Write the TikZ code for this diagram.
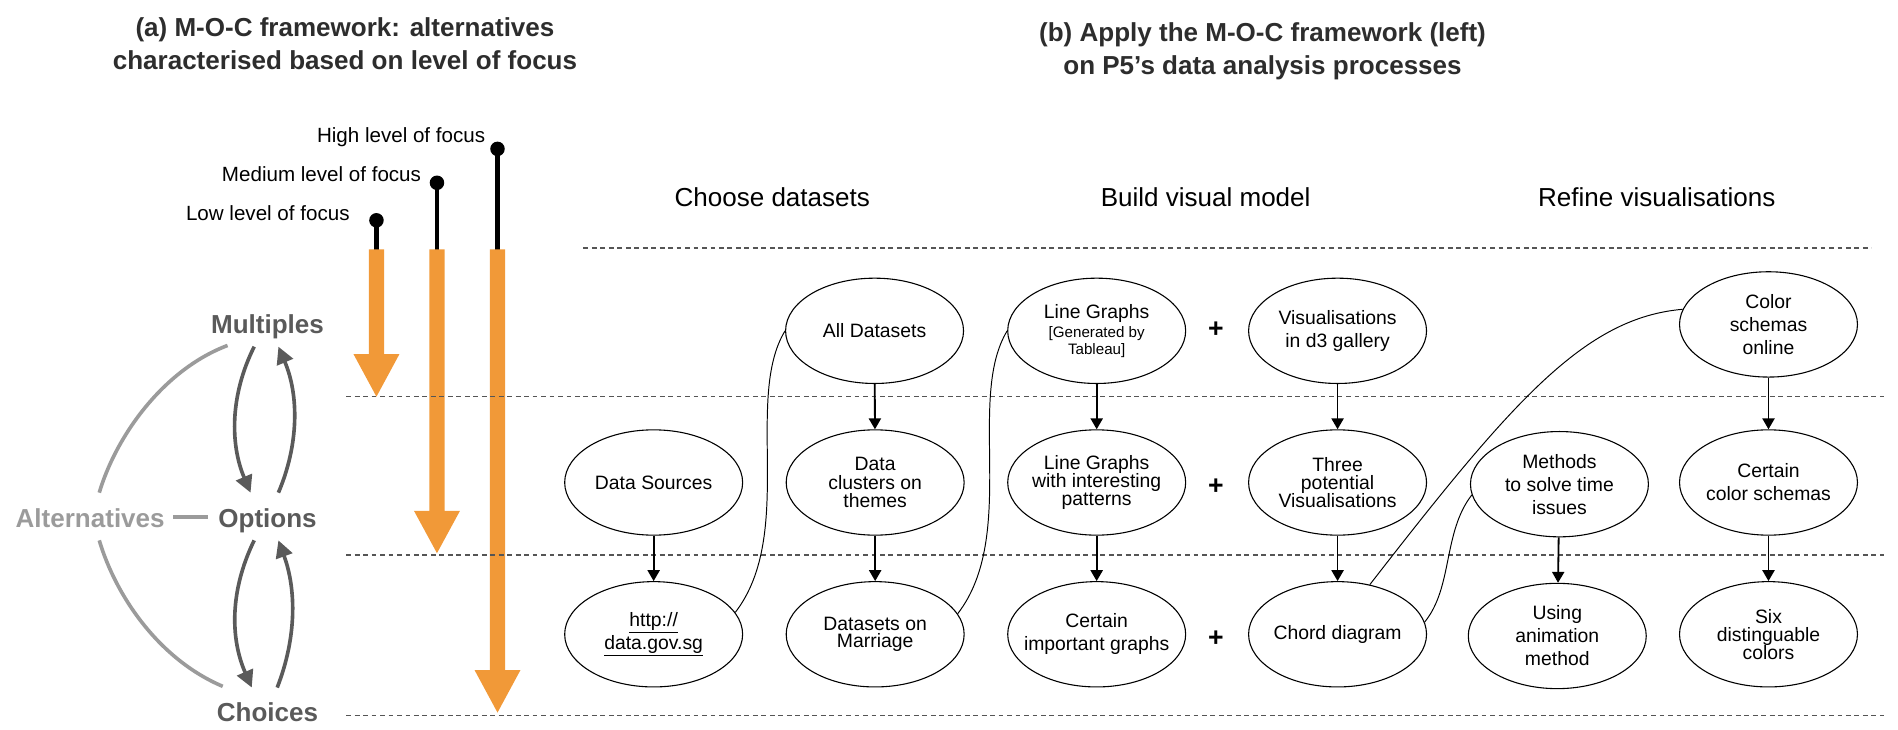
\documentclass[tikz,border=0pt]{standalone}
\usepackage{fontspec}
\setmainfont{Liberation Sans}
\usetikzlibrary{shapes.geometric,arrows.meta,calc}
\definecolor{orangeF}{RGB}{241,153,56}
\definecolor{darkG}{RGB}{90,90,90}
\definecolor{lightG}{RGB}{155,155,155}
\definecolor{titleG}{RGB}{45,45,45}
\definecolor{dashG}{RGB}{85,85,85}
\newcommand{\orangebar}[3]{\fill[orangeF] (#1-6.25,206) -- (#1+6.25,206) -- (#1+6.25,#2) -- (#1+19,#2) -- (#1,#3) -- (#1-19,#2) -- (#1-6.25,#2) -- cycle;}
\begin{document}
\begin{tikzpicture}[x=1pt,y=-1pt,
  elli/.style={ellipse, draw, line width=0.9pt, minimum width=147pt, minimum height=87pt, inner xsep=-14pt, inner ysep=-4pt, align=center, font=\fontsize{16}{15}\selectfont},
  loose/.style={font=\fontsize{16}{19}\selectfont},
  mid/.style={font=\fontsize{16}{14.3}\selectfont},
  varr/.style={-{Triangle[length=9pt,width=10pt]}, line width=1.5pt},
  curve/.style={line width=0.8pt},
  rowsep/.style={dash pattern=on 4pt off 3pt, line width=1.3pt, dashG},
  titlef/.style={font=\fontsize{21.5}{27}\selectfont\bfseries, text=titleG, align=center, inner sep=0pt, anchor=base},
  hdr/.style={font=\fontsize{21.5}{24}\selectfont, inner sep=0pt, anchor=base},
  foc/.style={font=\fontsize{17}{20}\selectfont, inner sep=0pt, anchor=base east},
  dot/.style={circle, fill=black, minimum size=12pt, inner sep=0pt},
  stem/.style={line width=3.5pt},
  moc/.style={font=\fontsize{21.5}{24}\selectfont\bfseries, text height=15.5pt, text depth=4.5pt, inner sep=0pt, anchor=base},
  darr/.style={darkG, line width=3pt, -{Triangle[length=14pt,width=14pt]}},
  garc/.style={lightG, line width=3pt},
  plus/.style={font=\fontsize{22}{22}\selectfont\bfseries, inner sep=0pt}
]
\useasboundingbox (0,0) rectangle (1568,603);

% titles (base anchor = baseline of the last line)
\node[titlef] (ta) at (285,57.3) {(a) M-O-C framework: alternatives\\characterised based on level of focus};
\node[titlef] (tb) at (1043,61.4) {(b) Apply the M-O-C framework (left)\\on P5’s data analysis processes};

% column headers
\node[hdr] (h1) at (638,170.2) {Choose datasets};
\node[hdr] (h2) at (996,170.2) {Build visual model};
\node[hdr] (h3) at (1368.7,170.2) {Refine visualisations};

% focus labels and dots
\node[foc] (lhi) at (401,117.6) {High level of focus};
\node[foc] (lme) at (348,149.8) {Medium level of focus};
\node[foc] (llo) at (289,181.8) {Low level of focus};
\node[dot] (dhi) at (411,123) {};
\node[dot] (dme) at (361,151) {};
\node[dot] (dlo) at (311,182) {};
\coordinate (bhi) at (411,207);
\coordinate (bme) at (361,207);
\coordinate (blo) at (311,207);
\draw[stem] (dhi.center) -- (bhi);
\draw[stem] (dme.center) -- (bme);
\draw[stem] (dlo.center) -- (blo);
\orangebar{311}{292.5}{327.7}
\orangebar{361}{422}{457}
\orangebar{411}{553.5}{588.7}

% dashed row separators
\draw[rowsep] (482,205) -- (1546,205);
\draw[rowsep] (286,327.7) -- (1556,327.7);
\draw[rowsep] (286,458.5) -- (1556,458.5);
\draw[rowsep] (286,591) -- (1556,591);

% M-O-C framework
\node[moc, text=darkG] (mul) at (221,275.7) {Multiples};
\node[moc, text=darkG] (opt) at (221,435.7) {Options};
\node[moc, text=darkG] (cho) at (221,595.7) {Choices};
\node[moc, text=lightG] (alt) at (74.5,435.7) {Alternatives};

\draw[darr] ($(mul.south)+(-11,6)$) .. controls +(-20,40) and +(-17,-40) .. ($(opt.north)+(-14,-13)$);
\draw[darr] ($(opt.north)+(9,-13)$) .. controls +(17,-40) and +(17,40) .. ($(mul.south)+(9,6)$);
\draw[darr] ($(opt.south)+(-11,6)$) .. controls +(-20,41) and +(-18,-41) .. ($(cho.north)+(-13,-12)$);
\draw[darr] ($(cho.north)+(8,-12)$) .. controls +(16,-41) and +(15,41) .. ($(opt.south)+(9,6)$);

\draw[garc] ($(alt.north)+(7.5,-13)$) .. controls +(14,-47) and +(-53,20) .. ($(mul.south)+(-33,5)$);
\draw[garc] ($(alt.south)+(7.5,6)$) .. controls +(14,47) and +(-52,-22) .. ($(cho.north)+(-37,-13)$);
\draw[garc] ($(alt.east)+(7,-3.2)$) -- ($(opt.west)+(-8,-3.2)$);

% ellipses
\node[elli] (alld) at (722.5,273.3) {All Datasets};
\node[elli] (lg1) at (906,273.3) {Line Graphs\\[1pt]\fontsize{12.5}{13.7}\selectfont [Generated by\\[-1.3pt]\fontsize{12.5}{13.7}\selectfont Tableau]};
\node[elli, loose] (vis) at (1105,273.3) {Visualisations\\in d3 gallery};
\node[elli, loose] (color) at (1461,268) {Color\\schemas\\online};
\node[elli] (ds) at (540,398.6) {Data Sources};
\node[elli] (clus) at (723,398.6) {Data\\clusters on\\themes};
\node[elli] (lg2) at (906,398.6) {Line Graphs\\with interesting\\patterns};
\node[elli] (three) at (1105,398.6) {Three\\potential\\Visualisations};
\node[elli, loose] (meth) at (1288.3,400) {Methods\\to solve time\\issues};
\node[elli, loose] (ccs) at (1461,398.6) {Certain\\color schemas};
\node[elli, loose] (http) at (540,524) {\underline{http://}\\\underline{data.gov.sg}};
\node[elli, mid] (dm) at (723,524) {Datasets on\\Marriage};
\node[elli, loose] (cig) at (906,524) {Certain\\important graphs};
\node[elli] (chord) at (1105,524) {Chord diagram};
\node[elli, loose] (using) at (1286.5,525.4) {Using\\animation\\method};
\node[elli] (six) at (1461,524) {Six\\distinguable\\colors};

% plus signs
\node[plus] (p1) at (1004.5,272.6) {+};
\node[plus] (p2) at (1004.5,402) {+};
\node[plus] (p3) at (1004.5,527.4) {+};

% vertical arrows
\draw[varr] (alld) -- (clus);
\draw[varr] (clus) -- (dm);
\draw[varr] (ds) -- (http);
\draw[varr] (lg1) -- (lg2);
\draw[varr] (lg2) -- (cig);
\draw[varr] (vis) -- (three);
\draw[varr] (three) -- (chord);
\draw[varr] (meth) -- (using);
\draw[varr] (color) -- (ccs);
\draw[varr] (ccs) -- (six);

% thin curves
\draw[curve] (http.15) .. controls +(50,-65) and +(-34,56) .. (alld.west);
\draw[curve] (dm.14) .. controls +(50,-65) and +(-34,56) .. (lg1.west);
\draw[curve] (chord.57) .. controls +(118,-152) and +(-81,7) .. (color.170);
\draw[curve] (chord.8) .. controls +(23.5,-29) and +(-24,31) .. (meth.187);
\end{tikzpicture}
\end{document}
